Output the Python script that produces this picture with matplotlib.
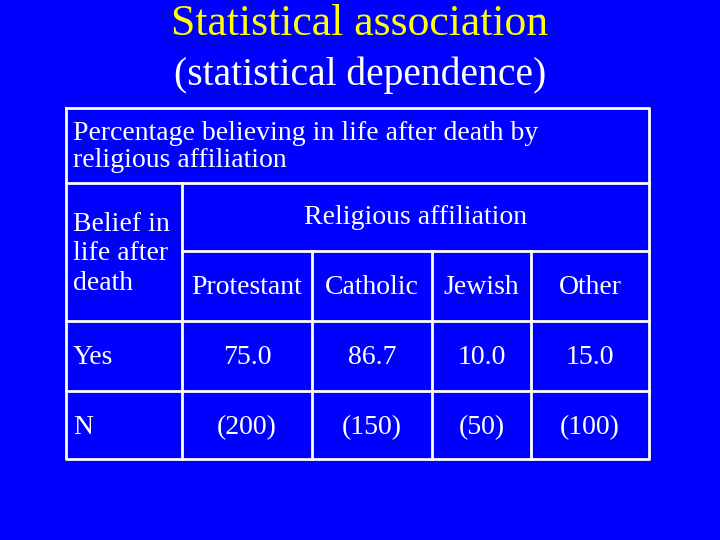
import matplotlib
matplotlib.use("Agg")
import matplotlib.pyplot as plt

# table content
affiliations = ["Protestant", "Catholic", "Jewish", "Other"]
pct_yes = [75.0, 86.7, 10.0, 15.0]
n_counts = [200, 150, 50, 100]

BG = "#0000FF"
FONT = "Liberation Serif"

fig = plt.figure(figsize=(7.2, 5.4), dpi=100, facecolor=BG)
ax = fig.add_axes([0, 0, 1, 1])
ax.set_facecolor(BG)
ax.set_xlim(0, 720)
ax.set_ylim(540, 0)
ax.axis("off")

ax.text(360, 24, "Statistical association", color="#FFFF00", fontsize=31.5,
        ha="center", va="center", family=FONT)
ax.text(360, 75, "(statistical dependence)", color="white", fontsize=28.5,
        ha="center", va="center", family=FONT)

# grid geometry
x0, x1 = 66, 649
col_x = [182, 312, 432, 531]
y_top, y_hdr1, y_hdr2, y_yes, y_n, y_bot = 108, 183, 251, 321, 391, 459
lw = 2
lc = "white"

ax.plot([x0, x1, x1, x0, x0], [y_top, y_top, y_bot, y_bot, y_top], color=lc, lw=lw)
ax.plot([x0, x1], [y_hdr1, y_hdr1], color=lc, lw=lw)
ax.plot([col_x[0], x1], [y_hdr2, y_hdr2], color=lc, lw=lw)
ax.plot([x0, x1], [y_yes, y_yes], color=lc, lw=lw)
ax.plot([x0, x1], [y_n, y_n], color=lc, lw=lw)
ax.plot([col_x[0], col_x[0]], [y_hdr1, y_bot], color=lc, lw=lw)
for cx in col_x[1:]:
    ax.plot([cx, cx], [y_hdr2, y_bot], color=lc, lw=lw)

fs = 20
ax.text(73, 147, "Percentage believing in life after death by\nreligious affiliation",
        color="white", fontsize=fs, ha="left", va="center", family=FONT, linespacing=1.15)
ax.text(73, 254, "Belief in\nlife after\ndeath", color="white", fontsize=fs,
        ha="left", va="center", family=FONT, linespacing=1.24)
ax.text((col_x[0] + x1) / 2, 218, "Religious affiliation", color="white", fontsize=fs,
        ha="center", va="center", family=FONT)

edges = col_x + [x1]
centers = [(edges[i] + edges[i + 1]) / 2 for i in range(len(affiliations))]
for cx, name, p, n in zip(centers, affiliations, pct_yes, n_counts):
    ax.text(cx, 288, name, color="white", fontsize=fs, ha="center", va="center", family=FONT)
    ax.text(cx, 357, f"{p:.1f}", color="white", fontsize=fs, ha="center", va="center", family=FONT)
    ax.text(cx, 428, f"({n})", color="white", fontsize=fs, ha="center", va="center", family=FONT)

ax.text(73, 357, "Yes", color="white", fontsize=fs, ha="left", va="center", family=FONT)
ax.text(73, 428, "N", color="white", fontsize=fs, ha="left", va="center", family=FONT)

fig.savefig("out.png", dpi=100, facecolor=BG)
